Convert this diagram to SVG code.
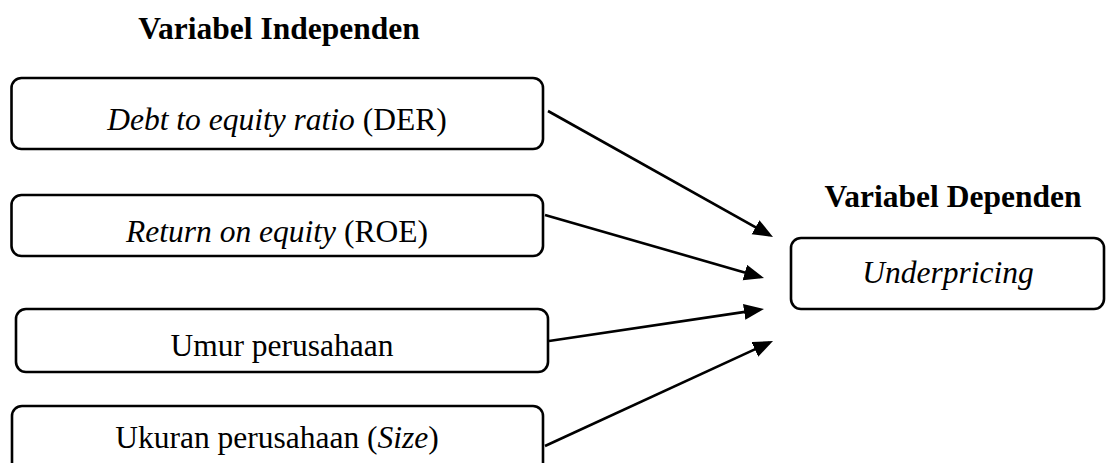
<svg xmlns="http://www.w3.org/2000/svg" width="1106" height="463" viewBox="0 0 1106 463">
<style>
.box{fill:#fff;stroke:#000;stroke-width:2.6}
.t{font-family:"Liberation Serif","Times New Roman",serif;font-size:31.5px;fill:#000;text-anchor:middle}
.b{font-weight:bold}
.i{font-style:italic}
.c{stroke:#000;stroke-width:2.6;fill:none;marker-end:url(#ah)}
</style>
<defs>
<marker id="ah" markerUnits="userSpaceOnUse" markerWidth="22" markerHeight="18" refX="16" refY="8" orient="auto">
<path d="M0,0 L20,8 L0,16 Z" fill="#000"/>
</marker>
</defs>
<rect width="1106" height="463" fill="#fff"/>
<text class="t b" x="279" y="39">Variabel Independen</text>
<text class="t b" x="953" y="207">Variabel Dependen</text>
<g id="der">
<rect class="box" x="11.5" y="78" width="531.5" height="71" rx="10"/>
<text class="t" x="277" y="130"><tspan class="i">Debt to equity ratio</tspan> (DER)</text>
</g>
<g id="roe">
<rect class="box" x="11.5" y="195" width="531.5" height="61" rx="10"/>
<text class="t" x="277" y="242"><tspan class="i">Return on equity</tspan> (ROE)</text>
</g>
<g id="umur">
<rect class="box" x="16" y="309" width="532" height="63" rx="10"/>
<text class="t" x="282" y="356">Umur perusahaan</text>
</g>
<g id="ukuran">
<rect class="box" x="12" y="406" width="531" height="72" rx="10"/>
<text class="t" x="277" y="448">Ukuran perusahaan (<tspan class="i">Size</tspan>)</text>
</g>
<g id="underpricing">
<rect class="box" x="791" y="238" width="313" height="71" rx="10"/>
<text class="t i" x="948" y="283">Underpricing</text>
</g>
<g id="connectors">
<line class="c" x1="548" y1="111" x2="769.5" y2="235"/>
<line class="c" x1="545" y1="215" x2="760.2" y2="276.9"/>
<line class="c" x1="549" y1="341" x2="760" y2="309.6"/>
<line class="c" x1="545" y1="446" x2="769.4" y2="342.7"/>
</g>
</svg>
